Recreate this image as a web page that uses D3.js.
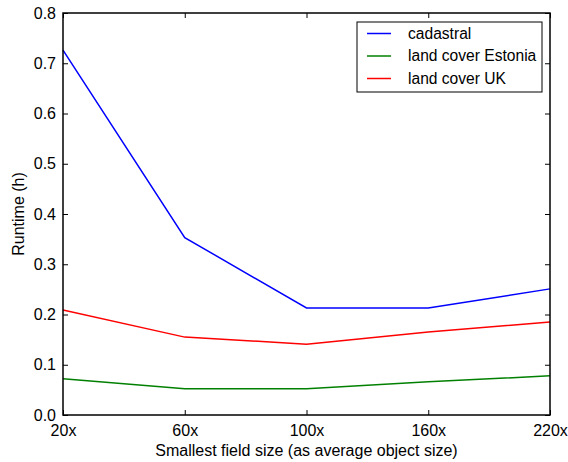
<!DOCTYPE html>
<html>
<head>
<meta charset="utf-8">
<script src="https://cdn.jsdelivr.net/npm/d3@7"></script>
<style>
body { margin: 0; background: #fff; }
svg text { font-family: "Liberation Sans", Arial, sans-serif; fill: #000; }
</style>
</head>
<body>
<svg class="lineChart" width="568" height="462"></svg>
<script>
var categories = ["20x", "60x", "100x", "160x", "220x"];
var cadastral = [0.726, 0.353, 0.213, 0.213, 0.251];
var landCoverEstonia = [0.072, 0.052, 0.052, 0.066, 0.078];
var landCoverUK = [0.209, 0.155, 0.141, 0.165, 0.185];
var yTicks = [0.0, 0.1, 0.2, 0.3, 0.4, 0.5, 0.6, 0.7, 0.8];

var seriesList = [
    { name: "cadastral", values: cadastral, color: "#0000ff" },
    { name: "land cover Estonia", values: landCoverEstonia, color: "#008000" },
    { name: "land cover UK", values: landCoverUK, color: "#ff0000" }
];

renderGraph();

function renderGraph() {
    var svg = d3.select(".lineChart"),
        margin = { top: 13, right: 18, bottom: 47, left: 63 },
        width = +svg.attr("width") - margin.left - margin.right,
        height = +svg.attr("height") - margin.top - margin.bottom;

    var x = d3.scalePoint().domain(categories).range([0, width]),
        y = d3.scaleLinear().domain([0, 0.8]).range([height, 0]);

    var g = svg.append("g")
        .attr("transform", "translate(" + margin.left + "," + margin.top + ")");

    // lines
    var line = d3.line()
        .x(function (d, i) { return x(categories[i]); })
        .y(function (d) { return y(d); });

    g.selectAll(".series")
        .data(seriesList)
        .enter().append("path")
        .attr("class", "series")
        .attr("fill", "none")
        .attr("stroke", function (d) { return d.color; })
        .attr("stroke-width", 1.5)
        .attr("d", function (d) { return line(d.values); });

    // axes, ticks inward on all four sides
    var bottom = g.append("g")
        .attr("transform", "translate(0," + height + ")")
        .call(d3.axisBottom(x).tickSizeInner(-5).tickSizeOuter(0).tickPadding(10));
    var left = g.append("g")
        .call(d3.axisLeft(y).tickValues(yTicks).tickFormat(d3.format(".1f"))
            .tickSizeInner(-5).tickSizeOuter(0).tickPadding(7));
    var top = g.append("g")
        .call(d3.axisTop(x).tickSizeInner(-5).tickSizeOuter(0).tickFormat(""));
    var right = g.append("g")
        .attr("transform", "translate(" + width + ",0)")
        .call(d3.axisRight(y).tickValues(yTicks).tickSizeInner(-5).tickSizeOuter(0).tickFormat(""));

    [bottom, left, top, right].forEach(function (a) {
        a.select(".domain").remove();
        a.selectAll("line").attr("stroke", "#000").attr("stroke-width", 1);
        a.selectAll("text").style("font-size", "16px");
    });

    g.append("rect")
        .attr("width", width)
        .attr("height", height)
        .attr("fill", "none")
        .attr("stroke", "#000")
        .attr("stroke-width", 1.5);

    // axis labels
    svg.append("text")
        .attr("x", margin.left + width / 2)
        .attr("y", 456)
        .attr("text-anchor", "middle")
        .style("font-size", "16px")
        .text("Smallest field size (as average object size)");

    svg.append("text")
        .attr("transform", "translate(24," + (margin.top + height / 2) + ") rotate(-90)")
        .attr("text-anchor", "middle")
        .style("font-size", "16px")
        .text("Runtime (h)");

    // legend
    var legend = svg.append("g").attr("transform", "translate(357,22)");
    legend.append("rect")
        .attr("width", 185)
        .attr("height", 70)
        .attr("fill", "#fff")
        .attr("stroke", "#000")
        .attr("stroke-width", 1);

    var item = legend.selectAll(".item")
        .data(seriesList)
        .enter().append("g")
        .attr("class", "item")
        .attr("transform", function (d, i) { return "translate(0," + (11.5 + i * 22.5) + ")"; });

    item.append("line")
        .attr("x1", 10).attr("x2", 34)
        .attr("stroke", function (d) { return d.color; })
        .attr("stroke-width", 1.5);

    item.append("text")
        .attr("x", 51)
        .attr("dy", "0.35em")
        .style("font-size", "15.6px")
        .text(function (d) { return d.name; });
}
</script>
</body>
</html>
